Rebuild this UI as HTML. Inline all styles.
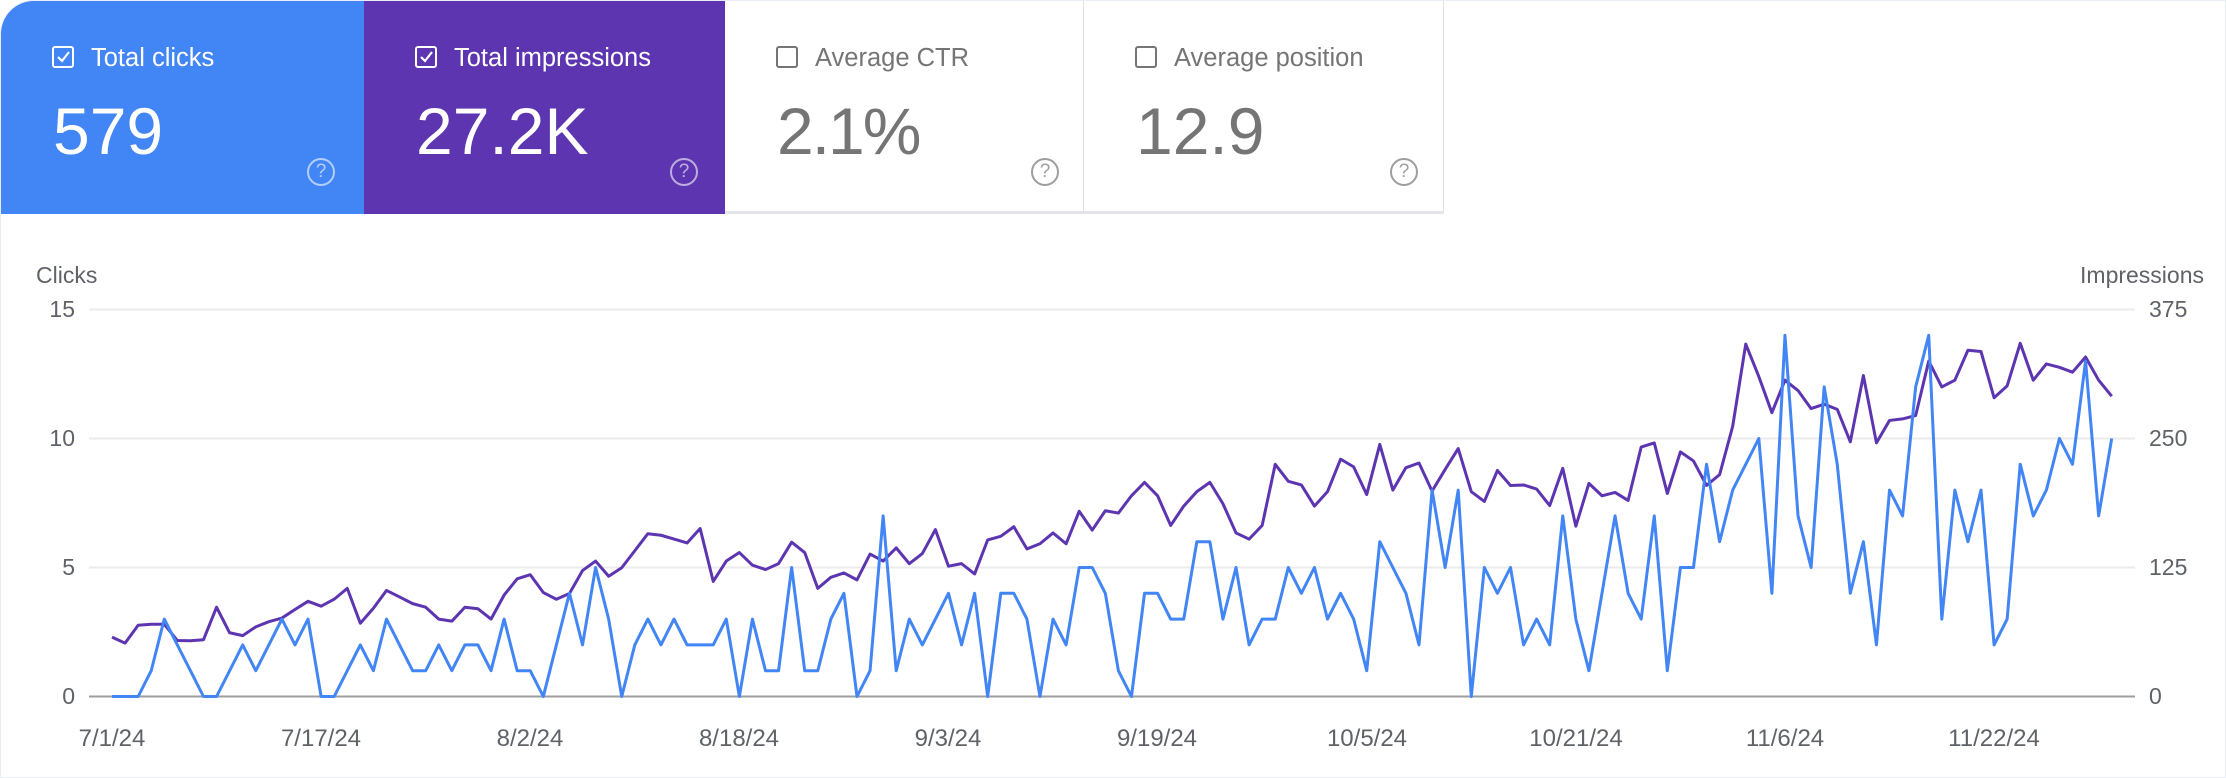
<!DOCTYPE html>
<html><head><meta charset="utf-8"><style>
html,body{margin:0;padding:0;background:#fff}
body{width:2226px;height:778px;position:relative;overflow:hidden;font-family:"Liberation Sans",sans-serif}
.frame{position:absolute;left:0;top:0;width:2224px;height:776px;border:1px solid #e8edf5;border-radius:34px 0 0 0;overflow:hidden}
.card{position:absolute;top:0;height:213px;box-sizing:border-box}
.lbl{position:absolute;left:90px;top:43px;font-size:25.5px}
.cb{position:absolute;left:51px;top:45px;width:22px;height:22px;border:2px solid;border-radius:3px;box-sizing:border-box}
.num{position:absolute;left:52px;top:92px;font-size:66px}
.help{position:absolute;left:306px;top:157px;width:28px;height:28px;border:2px solid;border-radius:50%;box-sizing:border-box;font-size:19px;text-align:center;line-height:24px}
.t{position:absolute;font-size:23px;color:#5f6368}
.d{position:absolute;font-size:24px;color:#5f6368;width:120px;text-align:center;top:724px}
</style></head><body>
<div class="frame">
<div class="card" style="left:0;width:363px;background:#4285f4;color:#fff">
 <div class="cb" style="border-color:#fff"><svg width="18" height="18" style="position:absolute;left:0;top:0"><path d="M4 9 L8 13 L15 4" stroke="#fff" stroke-width="2.2" fill="none"/></svg></div>
 <div class="lbl">Total clicks</div><div class="num">579</div>
 <div class="help" style="border-color:rgba(255,255,255,.6);color:rgba(255,255,255,.6)">?</div></div>
<div class="card" style="left:363px;width:361px;background:#5e35b1;color:#fff">
 <div class="cb" style="border-color:#fff"><svg width="18" height="18" style="position:absolute;left:0;top:0"><path d="M4 9 L8 13 L15 4" stroke="#fff" stroke-width="2.2" fill="none"/></svg></div>
 <div class="lbl">Total impressions</div><div class="num">27.2K</div>
 <div class="help" style="border-color:rgba(255,255,255,.6);color:rgba(255,255,255,.6)">?</div></div>
<div class="card" style="left:724px;width:359px;background:#fff;color:#757575;border-right:1px solid #e0e0e0;border-bottom:3px solid #e3e3e8">
 <div class="cb" style="border-color:#757575"></div>
 <div class="lbl">Average CTR</div><div class="num" style="letter-spacing:-2px">2.1%</div>
 <div class="help" style="border-color:#9e9e9e;color:#9e9e9e">?</div></div>
<div class="card" style="left:1083px;width:360px;background:#fff;color:#757575;border-right:1px solid #e0e0e0;border-bottom:3px solid #e3e3e8">
 <div class="cb" style="border-color:#757575"></div>
 <div class="lbl">Average position</div><div class="num">12.9</div>
 <div class="help" style="border-color:#9e9e9e;color:#9e9e9e">?</div></div>

<div class="t" style="left:35px;top:261px">Clicks</div>
<div class="t" style="left:1990px;width:213px;text-align:right;top:261px">Impressions</div>
<div class="t" style="left:20px;width:54px;text-align:right;top:295px">15</div>
<div class="t" style="left:20px;width:54px;text-align:right;top:424px">10</div>
<div class="t" style="left:20px;width:54px;text-align:right;top:553px">5</div>
<div class="t" style="left:20px;width:54px;text-align:right;top:682px">0</div>
<div class="t" style="left:2148px;top:295px">375</div>
<div class="t" style="left:2148px;top:424px">250</div>
<div class="t" style="left:2148px;top:553px">125</div>
<div class="t" style="left:2148px;top:682px">0</div>

<svg width="2226" height="778" style="position:absolute;left:0;top:0">
<g stroke="#ebebeb" stroke-width="2"><line x1="88" x2="2134" y1="308.5" y2="308.5"/><line x1="88" x2="2134" y1="437.5" y2="437.5"/><line x1="88" x2="2134" y1="566.5" y2="566.5"/></g>
<line x1="88" x2="2134" y1="695.5" y2="695.5" stroke="#9e9e9e" stroke-width="2"/>
<g transform="translate(111,695.5) scale(13.07,-25.8)" fill="none" stroke-linejoin="round">
<polyline vector-effect="non-scaling-stroke" stroke="#5e35b1" stroke-width="3" points="0,2.3 1,2.07 2,2.76 3,2.8 4,2.8 5,2.17 6,2.16 7,2.2 8,3.46 9,2.47 10,2.36 11,2.7 12,2.9 13,3.04 14,3.37 15,3.69 16,3.5 17,3.77 18,4.19 19,2.84 20,3.42 21,4.11 22,3.86 23,3.6 24,3.46 25,3 26,2.92 27,3.46 28,3.4 29,3 30,3.93 31,4.56 32,4.72 33,4.03 34,3.77 35,3.99 36,4.88 37,5.25 38,4.66 39,4.99 40,5.65 41,6.31 42,6.25 43,6.1 44,5.95 45,6.51 46,4.46 47,5.25 48,5.58 49,5.09 50,4.92 51,5.15 52,5.98 53,5.58 54,4.19 55,4.62 56,4.79 57,4.52 58,5.52 59,5.25 60,5.76 61,5.15 62,5.54 63,6.47 64,5.05 65,5.15 66,4.75 67,6.07 68,6.21 69,6.58 70,5.72 71,5.92 72,6.34 73,5.92 74,7.18 75,6.45 76,7.2 77,7.11 78,7.78 79,8.3 80,7.78 81,6.63 82,7.38 83,7.94 84,8.3 85,7.47 86,6.34 87,6.1 88,6.63 89,9 90,8.34 91,8.2 92,7.38 93,7.94 94,9.2 95,8.9 96,7.83 97,9.77 98,8 99,8.87 100,9.05 101,7.96 102,8.8 103,9.61 104,7.94 105,7.56 106,8.76 107,8.18 108,8.2 109,8.04 110,7.4 111,8.84 112,6.6 113,8.26 114,7.78 115,7.91 116,7.6 117,9.67 118,9.83 119,7.87 120,9.48 121,9.13 122,8.18 123,8.6 124,10.47 125,13.66 126,12.4 127,11 128,12.26 129,11.86 130,11.16 131,11.33 132,11.13 133,9.87 134,12.44 135,9.83 136,10.7 137,10.76 138,10.89 139,13 140,12 141,12.26 142,13.42 143,13.37 144,11.58 145,12.04 146,13.69 147,12.26 148,12.89 149,12.76 150,12.57 151,13.16 152,12.26 153,11.64"/>
<polyline vector-effect="non-scaling-stroke" stroke="#4285f4" stroke-width="3" points="0,0 1,0 2,0 3,1 4,3 5,2 6,1 7,0 8,0 9,1 10,2 11,1 12,2 13,3 14,2 15,3 16,0 17,0 18,1 19,2 20,1 21,3 22,2 23,1 24,1 25,2 26,1 27,2 28,2 29,1 30,3 31,1 32,1 33,0 34,2 35,4 36,2 37,5 38,3 39,0 40,2 41,3 42,2 43,3 44,2 45,2 46,2 47,3 48,0 49,3 50,1 51,1 52,5 53,1 54,1 55,3 56,4 57,0 58,1 59,7 60,1 61,3 62,2 63,3 64,4 65,2 66,4 67,0 68,4 69,4 70,3 71,0 72,3 73,2 74,5 75,5 76,4 77,1 78,0 79,4 80,4 81,3 82,3 83,6 84,6 85,3 86,5 87,2 88,3 89,3 90,5 91,4 92,5 93,3 94,4 95,3 96,1 97,6 98,5 99,4 100,2 101,8 102,5 103,8 104,0 105,5 106,4 107,5 108,2 109,3 110,2 111,7 112,3 113,1 114,4 115,7 116,4 117,3 118,7 119,1 120,5 121,5 122,9 123,6 124,8 125,9 126,10 127,4 128,14 129,7 130,5 131,12 132,9 133,4 134,6 135,2 136,8 137,7 138,12 139,14 140,3 141,8 142,6 143,8 144,2 145,3 146,9 147,7 148,8 149,10 150,9 151,13 152,7 153,10"/>
</g>
</svg>
<div class="d" style="left:51px">7/1/24</div>
<div class="d" style="left:260px">7/17/24</div>
<div class="d" style="left:469px">8/2/24</div>
<div class="d" style="left:678px">8/18/24</div>
<div class="d" style="left:887px">9/3/24</div>
<div class="d" style="left:1096px">9/19/24</div>
<div class="d" style="left:1306px">10/5/24</div>
<div class="d" style="left:1515px">10/21/24</div>
<div class="d" style="left:1724px">11/6/24</div>
<div class="d" style="left:1933px">11/22/24</div>
</div>
</body></html>
